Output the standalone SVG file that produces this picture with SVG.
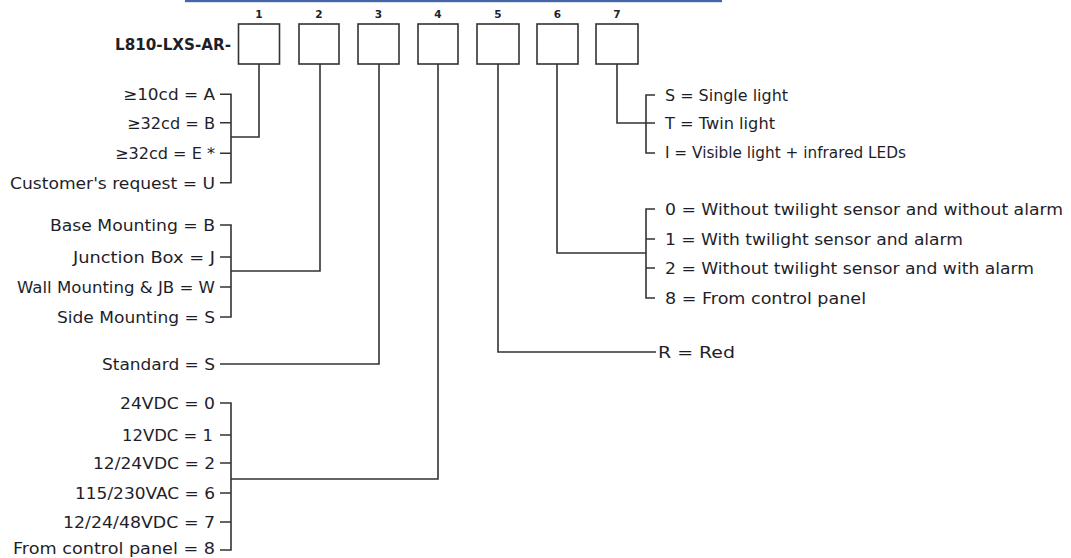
<svg xmlns="http://www.w3.org/2000/svg" width="1071" height="558" viewBox="0 0 1071 558">
<style>
.t{font-family:"DejaVu Sans","Liberation Sans",sans-serif;font-size:16px;fill:#1e1e2a}
.e{text-anchor:end}
.n{font-family:"DejaVu Sans","Liberation Sans",sans-serif;font-size:10.5px;font-weight:bold;fill:#1e1e2a;text-anchor:middle}
.box{fill:#fff;stroke:#333;stroke-width:1.6}
.c{fill:none;stroke:#333;stroke-width:1.6}
</style>
<rect x="185" y="0" width="537" height="2.2" fill="#4467a8"/>
<g id="title"><text class="t" x="115" y="50" font-weight="bold" font-size="17.5" textLength="116" lengthAdjust="spacingAndGlyphs">L810-LXS-AR-</text></g>
<g id="box1"><rect class="box" x="238.5" y="24" width="41" height="40"/><text class="n" x="259" y="18">1</text></g>
<g id="box2"><rect class="box" x="299" y="24" width="40" height="40"/><text class="n" x="319" y="18">2</text></g>
<g id="box3"><rect class="box" x="358" y="24" width="41" height="40"/><text class="n" x="378.5" y="18">3</text></g>
<g id="box4"><rect class="box" x="418" y="24" width="40" height="40"/><text class="n" x="438" y="18">4</text></g>
<g id="box5"><rect class="box" x="477" y="24" width="42" height="40"/><text class="n" x="498" y="18">5</text></g>
<g id="box6"><rect class="box" x="537" y="24" width="41" height="40"/><text class="n" x="557.5" y="18">6</text></g>
<g id="box7"><rect class="box" x="596" y="24" width="42" height="40"/><text class="n" x="617" y="18">7</text></g>
<g id="connectors">
<path class="c" d="M259,64 V137 H231 M220,94.3 H231 V182.7 H220 M220,122.7 H231 M220,153.3 H231"/>
<path class="c" d="M320,64 V271 H231 M220,225 H231 V317 H220 M220,257 H231 M220,287 H231"/>
<path class="c" d="M379,64 V364 H220"/>
<path class="c" d="M438,64 V479 H231 M220,403 H231 V550 H220 M220,435 H231 M220,463 H231 M220,493 H231 M220,522 H231"/>
<path class="c" d="M498,64 V352 H656"/>
<path class="c" d="M557,64 V253 H646 M655,209 H646 V298 H655 M646,239 H655 M646,268 H655"/>
<path class="c" d="M617,64 V123 H646 M655,95 H646 V153 H655 M646,123 H655"/>
</g>
<g id="opt1">
<text class="t e" x="215" y="100" textLength="92" lengthAdjust="spacingAndGlyphs">≥10cd = A</text>
<text class="t e" x="215" y="128.5" textLength="88" lengthAdjust="spacingAndGlyphs">≥32cd = B</text>
<text class="t e" x="215" y="159" textLength="100" lengthAdjust="spacingAndGlyphs">≥32cd = E *</text>
<text class="t e" x="215" y="188.5" textLength="205" lengthAdjust="spacingAndGlyphs">Customer's request = U</text>
</g>
<g id="opt2">
<text class="t e" x="215" y="231" textLength="165" lengthAdjust="spacingAndGlyphs">Base Mounting = B</text>
<text class="t e" x="215" y="263" textLength="142" lengthAdjust="spacingAndGlyphs">Junction Box = J</text>
<text class="t e" x="215" y="293" textLength="198" lengthAdjust="spacingAndGlyphs">Wall Mounting &amp; JB = W</text>
<text class="t e" x="215" y="323" textLength="158" lengthAdjust="spacingAndGlyphs">Side Mounting = S</text>
</g>
<g id="opt3">
<text class="t e" x="215" y="370" textLength="113" lengthAdjust="spacingAndGlyphs">Standard = S</text>
</g>
<g id="opt4">
<text class="t e" x="215" y="409" textLength="95" lengthAdjust="spacingAndGlyphs">24VDC = 0</text>
<text class="t e" x="213" y="441" textLength="91" lengthAdjust="spacingAndGlyphs">12VDC = 1</text>
<text class="t e" x="215" y="469" textLength="122" lengthAdjust="spacingAndGlyphs">12/24VDC = 2</text>
<text class="t e" x="215" y="499" textLength="140" lengthAdjust="spacingAndGlyphs">115/230VAC = 6</text>
<text class="t e" x="215" y="528" textLength="152" lengthAdjust="spacingAndGlyphs">12/24/48VDC = 7</text>
<text class="t e" x="215" y="554" textLength="202" lengthAdjust="spacingAndGlyphs">From control panel = 8</text>
</g>
<g id="opt5">
<text class="t" x="658" y="358" textLength="77" lengthAdjust="spacingAndGlyphs">R = Red</text>
</g>
<g id="opt6">
<text class="t" x="665" y="215" textLength="398" lengthAdjust="spacingAndGlyphs">0 = Without twilight sensor and without alarm</text>
<text class="t" x="665" y="245" textLength="298" lengthAdjust="spacingAndGlyphs">1 = With twilight sensor and alarm</text>
<text class="t" x="665" y="274" textLength="369" lengthAdjust="spacingAndGlyphs">2 = Without twilight sensor and with alarm</text>
<text class="t" x="665" y="304" textLength="201" lengthAdjust="spacingAndGlyphs">8 = From control panel</text>
</g>
<g id="opt7">
<text class="t" x="665" y="101" textLength="123" lengthAdjust="spacingAndGlyphs">S = Single light</text>
<text class="t" x="665" y="129" textLength="110" lengthAdjust="spacingAndGlyphs">T = Twin light</text>
<text class="t" x="665" y="158" textLength="241" lengthAdjust="spacingAndGlyphs">I = Visible light + infrared LEDs</text>
</g>
</svg>
